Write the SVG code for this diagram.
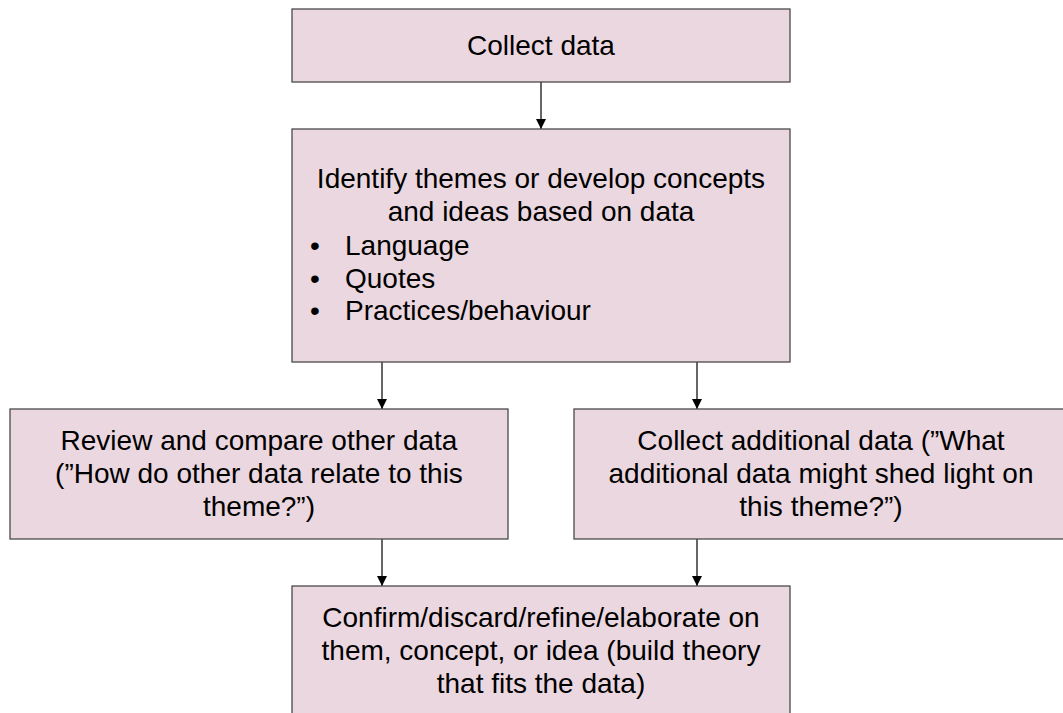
<svg xmlns="http://www.w3.org/2000/svg" width="1063" height="713" viewBox="0 0 1063 713">
  <defs>
    <marker id="arrow" markerWidth="10" markerHeight="10" refX="10" refY="5" orient="auto" markerUnits="userSpaceOnUse">
      <path d="M0,0 L10,5 L0,10 Z" fill="#000"/>
    </marker>
    <style>
      .box { fill: #ebd7df; stroke: #4a4a4a; stroke-width: 1.3; }
      .lbl { font-family: "Liberation Sans", Arial, sans-serif; font-size: 28px; fill: #000; }
      .mid { text-anchor: middle; }
      .conn { stroke: #000; stroke-width: 1.2; fill: none; marker-end: url(#arrow); }
    </style>
  </defs>
  <rect width="1063" height="713" fill="#fff"/>

  <g id="connectors">
    <line class="conn" x1="541" y1="82" x2="541" y2="129"/>
    <line class="conn" x1="382" y1="362" x2="382" y2="409"/>
    <line class="conn" x1="697" y1="362" x2="697" y2="409"/>
    <line class="conn" x1="382" y1="539" x2="382" y2="586"/>
    <line class="conn" x1="697" y1="539" x2="697" y2="586"/>
  </g>

  <g id="collect-data">
    <rect class="box" x="292" y="9" width="498" height="73"/>
    <text class="lbl mid" x="541" y="55">Collect data</text>
  </g>

  <g id="identify-themes">
    <rect class="box" x="292" y="129" width="498" height="233"/>
    <text class="lbl mid" x="541" y="188">Identify themes or develop concepts</text>
    <text class="lbl mid" x="541" y="221">and ideas based on data</text>
    <text class="lbl" x="310" y="255">•</text>
    <text class="lbl" x="345" y="255">Language</text>
    <text class="lbl" x="310" y="288">•</text>
    <text class="lbl" x="345" y="288">Quotes</text>
    <text class="lbl" x="310" y="320">•</text>
    <text class="lbl" x="345" y="320">Practices/behaviour</text>
  </g>

  <g id="review-compare">
    <rect class="box" x="10" y="409" width="498" height="130"/>
    <text class="lbl mid" x="259" y="450">Review and compare other data</text>
    <text class="lbl mid" x="259" y="483">(”How do other data relate to this</text>
    <text class="lbl mid" x="259" y="516">theme?”)</text>
  </g>

  <g id="collect-additional">
    <rect class="box" x="574" y="409" width="494" height="130"/>
    <text class="lbl mid" x="821" y="450">Collect additional data (”What</text>
    <text class="lbl mid" x="821" y="483">additional data might shed light on</text>
    <text class="lbl mid" x="821" y="516">this theme?”)</text>
  </g>

  <g id="confirm-refine">
    <rect class="box" x="292" y="586" width="498" height="140"/>
    <text class="lbl mid" x="541" y="627">Confirm/discard/refine/elaborate on</text>
    <text class="lbl mid" x="541" y="660">them, concept, or idea (build theory</text>
    <text class="lbl mid" x="541" y="693">that fits the data)</text>
  </g>
</svg>
